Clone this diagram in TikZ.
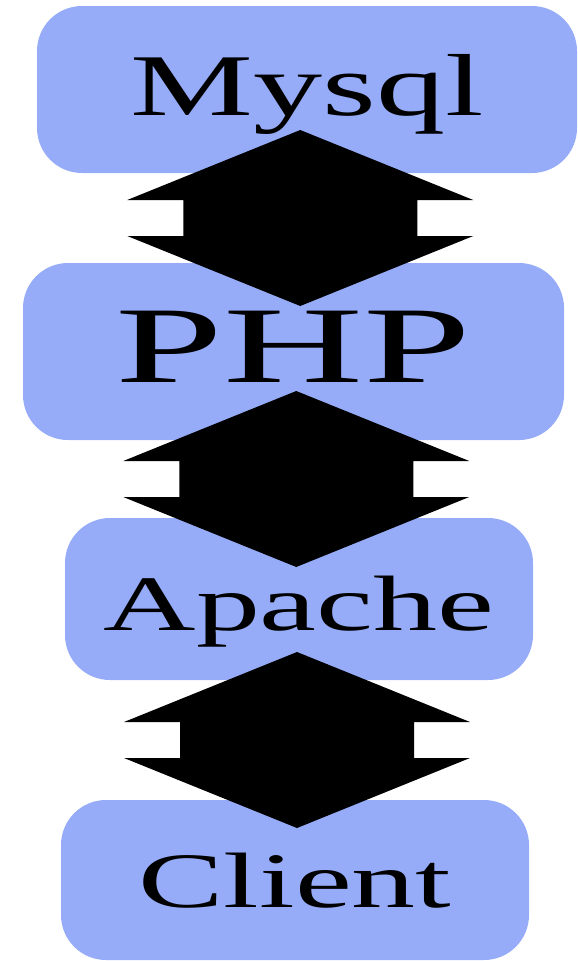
\documentclass[tikz,border=0pt]{standalone}
\usepackage{fontspec}
\setmainfont{Liberation Serif}
\usetikzlibrary{calc}
\definecolor{boxblue}{RGB}{150,172,248}
\tikzset{
  layer/.style={fill=boxblue,rounded corners=45pt,inner sep=0pt,text depth=0pt},
  linkfill/.style={fill=black}
}
\begin{document}
\begin{tikzpicture}[x=1pt,y=1pt]
\useasboundingbox (0,0) rectangle (578,-961);
% the four layers
\node[layer,minimum width=540pt,minimum height=167pt,text height=51pt] (mysql) at (307,-89.5)
  {\fontsize{88}{88}\selectfont\scalebox{1.57}[1]{Mysql}};
\node[layer,minimum width=541pt,minimum height=177pt,text height=61pt] (php) at (293.5,-351.5)
  {\fontsize{109}{109}\selectfont\scalebox{1.78}[1]{PHP}};
\node[layer,minimum width=468pt,minimum height=162pt,text height=62pt] (apache) at (299,-599)
  {\fontsize{78.5}{78.5}\selectfont\scalebox{1.63}[1]{Apache}};
\node[layer,minimum width=468pt,minimum height=160pt,text height=54pt] (client) at (295,-880)
  {\fontsize{78.5}{78.5}\selectfont\scalebox{1.63}[1]{Client}};
% double arrows between the layers
\foreach \a/\b in {mysql/php,php/apache,apache/client}{
  \coordinate (m) at ($(\a.south)!0.5!(\b.north)$);
  \fill[linkfill] (m) ++(0,88) -- ++(-173,-70) -- ++(56,0) -- ++(0,-36) -- ++(-56,0)
    -- ++(173,-70) -- ++(173,70) -- ++(-56,0) -- ++(0,36) -- ++(56,0) -- cycle;
}
\end{tikzpicture}
\end{document}
